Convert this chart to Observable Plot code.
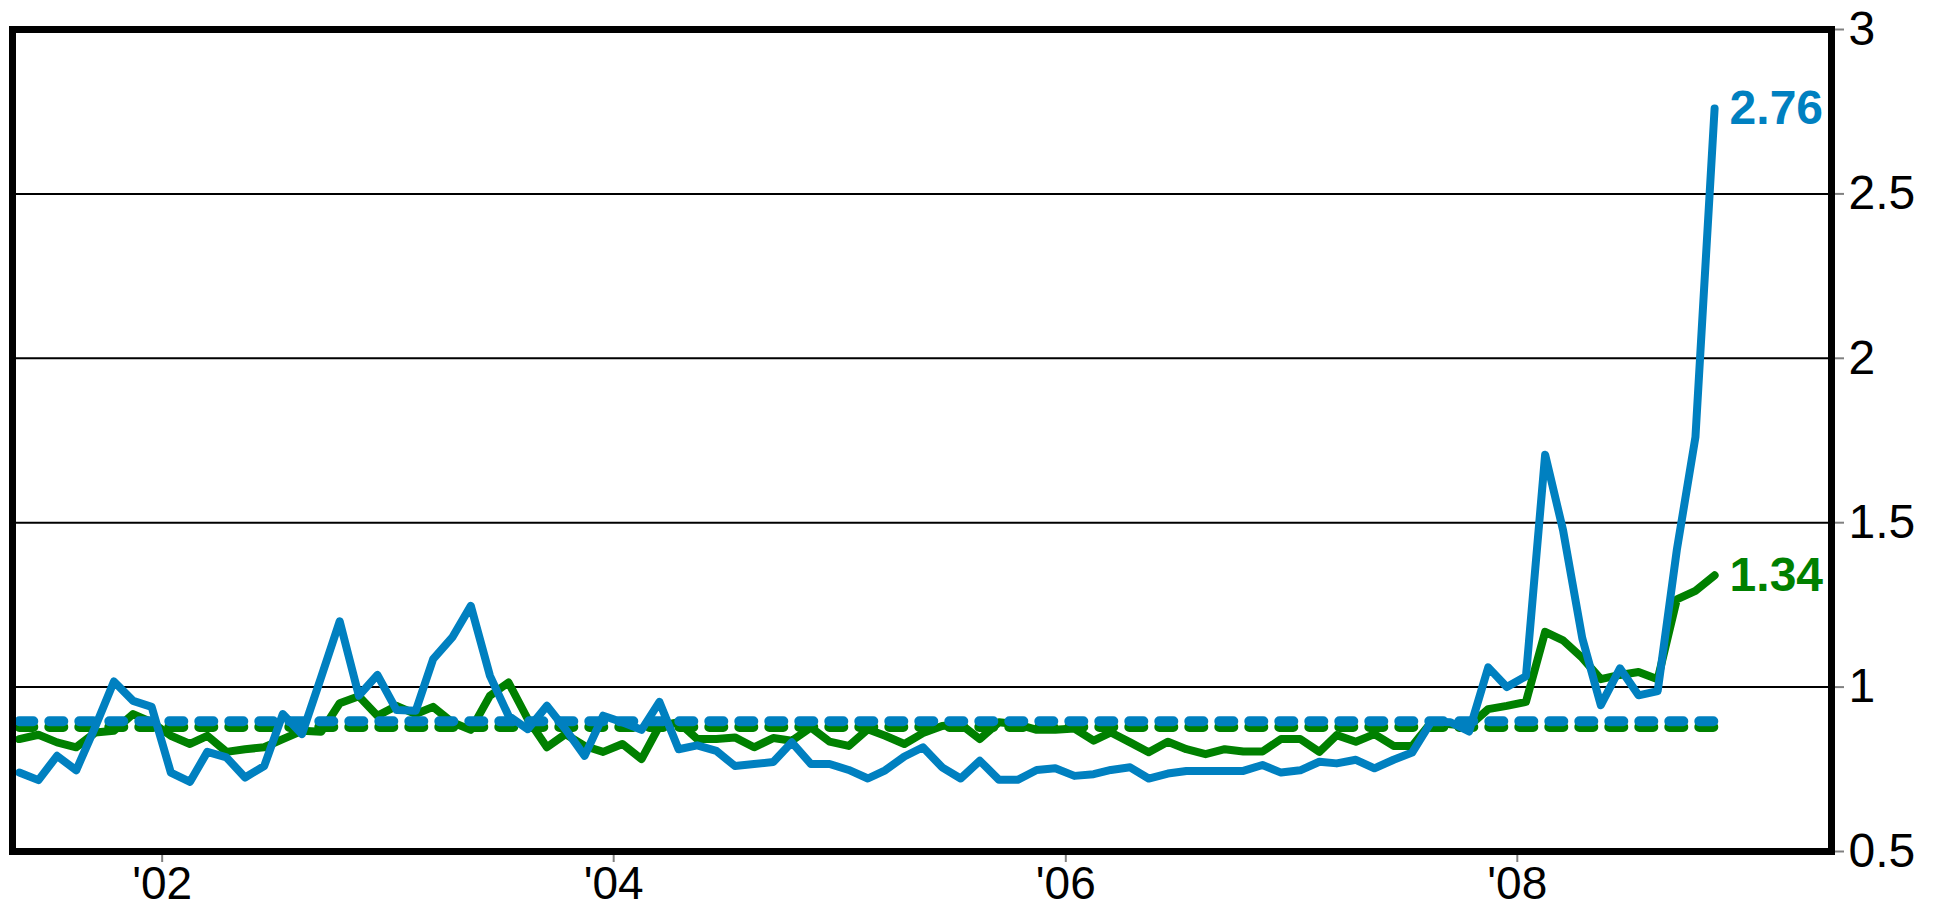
<!DOCTYPE html>
<html>
<head>
<meta charset="utf-8">
<script src="https://cdn.jsdelivr.net/npm/d3@7"></script>
<script src="https://cdn.jsdelivr.net/npm/@observablehq/plot@0.6"></script>
<style>
  html, body { margin: 0; padding: 0; background: #ffffff; }
  #chart svg { display: block; }
</style>
</head>
<body>
<div id="chart"></div>
<script>
// Monthly observations, May 2001 – Nov 2008 (one value per month)
const firstYear = 2001;
const firstMonthIndex = 4; // May

const blueValues = [
  0.74, 0.717, 0.791, 0.747, 0.88, 1.017, 0.958, 0.94, 0.74, 0.712,
  0.803, 0.786, 0.725, 0.76, 0.918, 0.857, 1.03, 1.2, 0.974, 1.037,
  0.93, 0.928, 1.085, 1.151, 1.247, 1.034, 0.913, 0.872, 0.943, 0.872,
  0.791, 0.913, 0.893, 0.87, 0.955, 0.811, 0.823, 0.806, 0.76, 0.766,
  0.772, 0.832, 0.766, 0.766, 0.748, 0.722, 0.747, 0.789, 0.817, 0.756,
  0.722, 0.776, 0.718, 0.718, 0.748, 0.753, 0.73, 0.735, 0.748, 0.756,
  0.722, 0.737, 0.745, 0.745, 0.745, 0.745, 0.763, 0.74, 0.747, 0.773,
  0.768, 0.779, 0.753, 0.779, 0.801, 0.895, 0.893, 0.865, 1.06, 1.0,
  1.033, 1.707, 1.477, 1.149, 0.945, 1.057, 0.975, 0.988, 1.418, 1.76,
  2.76
];

const greenValues = [
  0.842, 0.855, 0.832, 0.817, 0.862, 0.867, 0.918, 0.893, 0.852, 0.827,
  0.852, 0.803, 0.811, 0.817, 0.842, 0.867, 0.864, 0.951, 0.972, 0.913,
  0.943, 0.918, 0.94, 0.893, 0.87, 0.974, 1.014, 0.903, 0.817, 0.857,
  0.821, 0.803, 0.827, 0.781, 0.882, 0.893, 0.842, 0.842, 0.847, 0.817,
  0.845, 0.837, 0.877, 0.834, 0.821, 0.872, 0.852, 0.827, 0.86, 0.882,
  0.887, 0.842, 0.893, 0.887, 0.87, 0.87, 0.874, 0.837, 0.862, 0.832,
  0.802, 0.834, 0.811, 0.796, 0.811, 0.804, 0.804, 0.842, 0.842, 0.803,
  0.854, 0.834, 0.857, 0.821, 0.821, 0.893, 0.887, 0.882, 0.933, 0.943,
  0.955, 1.168, 1.142, 1.089, 1.024, 1.037, 1.046, 1.024, 1.267, 1.293,
  1.34
];

// Long-run averages (dashed lines)
const blueAverage = 0.896;
const greenAverage = 0.885;

// Axis ticks
const yTicks = [0.5, 1, 1.5, 2, 2.5, 3];
const yGridLines = [1, 1.5, 2, 2.5];
const xTickYears = [2002, 2004, 2006, 2008];
const xTickLabels = ["'02", "'04", "'06", "'08"];

const blueColor = "#0080c0";
const greenColor = "#008000";

// Build tables from the arrays
const months = blueValues.map((_, i) => new Date(Date.UTC(firstYear, firstMonthIndex + i, 15)));
const blueData = months.map((date, i) => ({date, value: blueValues[i]}));
const greenData = months.map((date, i) => ({date, value: greenValues[i]}));
const firstDate = months[0];
const lastDate = months[months.length - 1];
const blueAvgData = [{date: firstDate, value: blueAverage}, {date: lastDate, value: blueAverage}];
const greenAvgData = [{date: firstDate, value: greenAverage}, {date: lastDate, value: greenAverage}];
const xTicks = xTickYears.map(y => new Date(Date.UTC(y, 0, 1)));
const xLabelByYear = new Map(xTickYears.map((y, i) => [y, xTickLabels[i]]));

const chart = Plot.plot({
  width: 1935,
  height: 911,
  marginTop: 29,
  marginBottom: 60,
  marginLeft: 12,
  marginRight: 104,
  style: {fontFamily: "'Liberation Sans', Arial, sans-serif", background: "#ffffff", color: "black"},
  x: {type: "utc", domain: [new Date(Date.UTC(2001, 4, 4)), new Date(Date.UTC(2009, 4, 23))]},
  y: {domain: [0.5, 3]},
  marks: [
    Plot.ruleY(yGridLines, {stroke: "black", strokeWidth: 2}),
    Plot.axisY({
      anchor: "right", ticks: yTicks, tickSize: 12, tickPadding: 5,
      tickFormat: d => String(d), fontSize: 48, stroke: "#808080", strokeWidth: 2,
      fill: "black", label: null
    }),
    Plot.axisX({
      ticks: xTicks, tickSize: 11, tickPadding: 4,
      tickFormat: d => xLabelByYear.get(d.getUTCFullYear()), fontSize: 46,
      stroke: "#808080", strokeWidth: 2, fill: "black", label: null
    }),
    Plot.lineY(greenData, {x: "date", y: "value", stroke: greenColor, strokeWidth: 8,
      strokeLinejoin: "round", strokeLinecap: "round"}),
    Plot.lineY(greenAvgData, {x: "date", y: "value", stroke: greenColor, strokeWidth: 10,
      strokeDasharray: "14,16", strokeLinecap: "round", dy: 2}),
    Plot.lineY(blueAvgData, {x: "date", y: "value", stroke: blueColor, strokeWidth: 10,
      strokeDasharray: "14,16", strokeLinecap: "round"}),
    Plot.lineY(blueData, {x: "date", y: "value", stroke: blueColor, strokeWidth: 8,
      strokeLinejoin: "round", strokeLinecap: "round"}),
    Plot.text([blueData[blueData.length - 1]], {x: "date", y: "value", text: d => d.value.toFixed(2),
      fill: blueColor, fontSize: 48, fontWeight: "bold", textAnchor: "start", dx: 15}),
    Plot.text([greenData[greenData.length - 1]], {x: "date", y: "value", text: d => d.value.toFixed(2),
      fill: greenColor, fontSize: 48, fontWeight: "bold", textAnchor: "start", dx: 15}),
    Plot.frame({stroke: "black", strokeWidth: 7})
  ]
});

document.getElementById("chart").appendChild(chart);
</script>
</body>
</html>
